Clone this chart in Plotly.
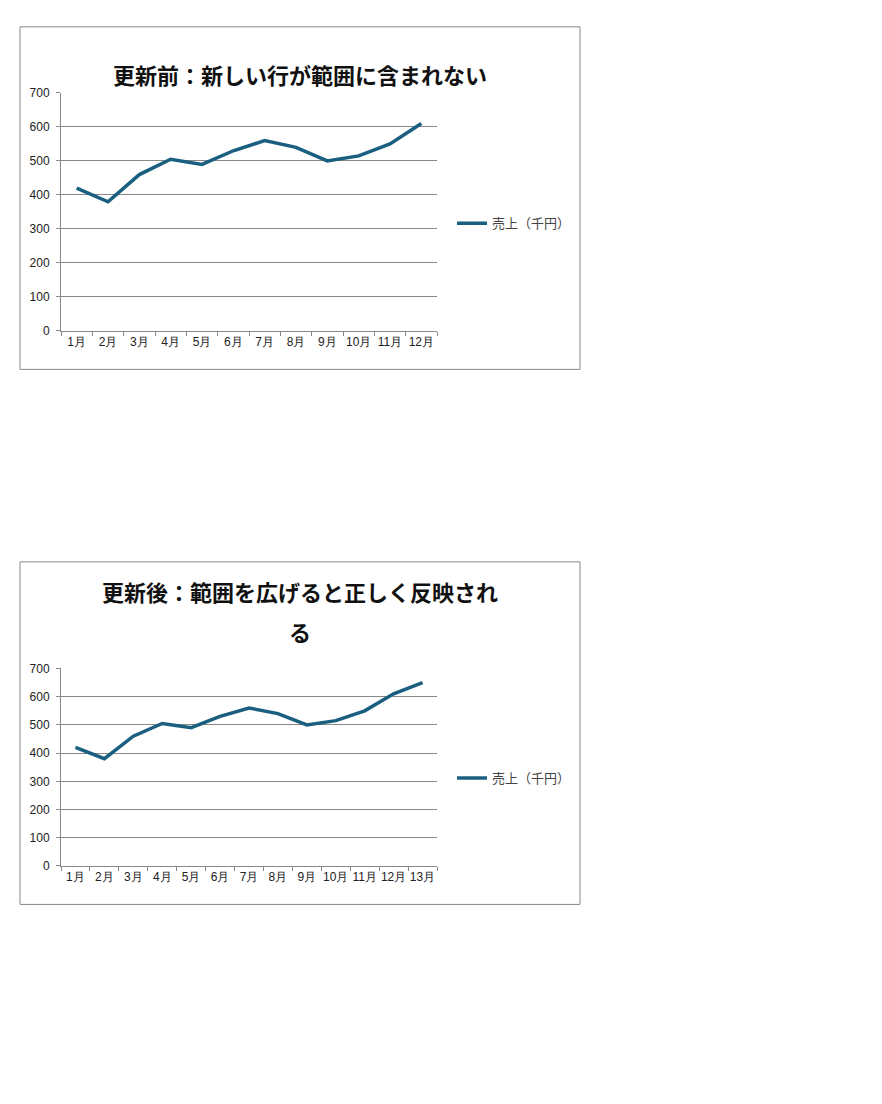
import plotly.graph_objects as go

months1 = [f"{i}月" for i in range(1, 13)]
sales1 = [420, 380, 460, 505, 490, 530, 560, 540, 500, 515, 550, 610]
months2 = [f"{i}月" for i in range(1, 14)]
sales2 = [420, 380, 460, 505, 490, 530, 560, 540, 500, 515, 550, 610, 650]
series_name = "売上（千円）"
title1 = "更新前：新しい行が範囲に含まれない"
title2a = "更新後：範囲を広げると正しく反映され"
title2b = "る"

W, H = 866, 1088
OFF = 8
def px(x): return (x - OFF) / W
def py(y): return 1 - (y - OFF) / H

color = "#1a5f80"
font = "Noto Sans CJK JP"
fig = go.Figure()
fig.add_trace(go.Scatter(x=months1, y=sales1, mode="lines", name=series_name,
                         line=dict(color=color, width=3.5), xaxis="x", yaxis="y", legend="legend"))
fig.add_trace(go.Scatter(x=months2, y=sales2, mode="lines", name=series_name,
                         line=dict(color=color, width=3.5), xaxis="x2", yaxis="y2", legend="legend2"))

ax = dict(showgrid=False, showline=True, linecolor="#888", ticks="outside", tickcolor="#888",
          ticklen=4, tickson="boundaries", tickangle=0, tickfont=dict(size=12, color="#222", family="Liberation Sans"),
          fixedrange=True)
ay = dict(range=[0, 700], dtick=100, showgrid=True, gridcolor="#888", showline=True, linecolor="#888",
          ticks="outside", tickcolor="#888", ticklen=4, zeroline=False, ticklabelstandoff=4,
          tickfont=dict(size=12, color="#222", family="Liberation Sans"))
fig.update_layout(
    width=W, height=H, margin=dict(l=0, r=0, t=0, b=0), plot_bgcolor="white", paper_bgcolor="white",
    font=dict(family=font),
    xaxis=dict(ax, domain=[px(61), px(437)], anchor="y", range=[-0.5, 11.5]),
    yaxis=dict(ay, domain=[py(328), py(87)], anchor="x"),
    xaxis2=dict(ax, domain=[px(61), px(437)], anchor="y2", range=[-0.5, 12.5]),
    yaxis2=dict(ay, domain=[py(870), py(670)], anchor="x2"),
    legend=dict(x=px(452), y=py(219), xanchor="left", yanchor="middle", bgcolor="rgba(0,0,0,0)",
                font=dict(size=13, color="#444")),
    legend2=dict(x=px(452), y=py(781), xanchor="left", yanchor="middle", bgcolor="rgba(0,0,0,0)",
                 font=dict(size=13, color="#444")),
    showlegend=True,
    shapes=[
        dict(type="rect", xref="paper", yref="paper", x0=px(20), x1=px(580), y0=py(367), y1=py(20),
             line=dict(color="#888", width=1)),
        dict(type="rect", xref="paper", yref="paper", x0=px(20), x1=px(580), y0=py(909), y1=py(562),
             line=dict(color="#888", width=1)),
    ],
    annotations=[
        dict(text=title1, x=px(300), y=py(50), xref="paper", yref="paper", showarrow=False,
             font=dict(size=22, color="#111", family=font, weight="bold")),
        dict(text=title2a, x=px(300), y=py(592), xref="paper", yref="paper", showarrow=False,
             font=dict(size=22, color="#111", family=font, weight="bold")),
        dict(text=title2b, x=px(300), y=py(632), xref="paper", yref="paper", showarrow=False,
             font=dict(size=22, color="#111", family=font, weight="bold")),
    ],
)
fig.write_html("out.html")
